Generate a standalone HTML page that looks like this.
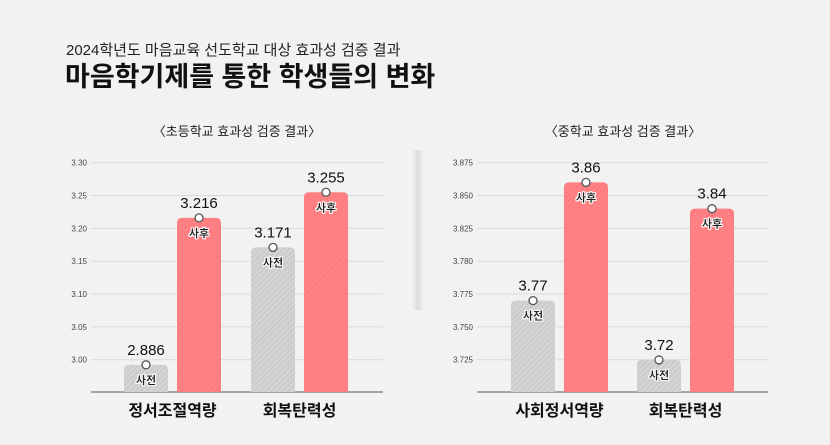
<!DOCTYPE html>
<html><head><meta charset="utf-8">
<style>
body{margin:0;width:830px;height:445px;background:#f2f2f2;overflow:hidden;font-family:"Liberation Sans","Noto Sans CJK KR",sans-serif;}
svg{display:block}
</style></head>
<body>
<svg width="830" height="445" viewBox="0 0 830 445" xmlns="http://www.w3.org/2000/svg">
<defs>
<pattern id="hatchGray" patternUnits="userSpaceOnUse" width="4" height="4" patternTransform="rotate(45)">
<rect width="4" height="4" fill="#d3d3d3"/><line x1="0" y1="0" x2="0" y2="4" stroke="#c2c2c2" stroke-width="1.5"/></pattern>
<pattern id="hatchRed" patternUnits="userSpaceOnUse" width="4" height="4" patternTransform="rotate(45)">
<rect width="4" height="4" fill="#ff8184"/><line x1="0" y1="0" x2="0" y2="4" stroke="#f57578" stroke-width="1"/></pattern>
<linearGradient id="divider" x1="0" x2="1"><stop offset="0" stop-color="#f2f2f2"/><stop offset="0.5" stop-color="#d6d6d6"/><stop offset="1" stop-color="#f2f2f2"/></linearGradient>
<filter id="halo"><feMorphology operator="dilate" radius="1.2" in="SourceAlpha" result="d"/><feFlood flood-color="#fff"/><feComposite in2="d" operator="in"/><feMerge><feMergeNode/><feMergeNode in="SourceGraphic"/></feMerge></filter>
</defs>
<rect x="412" y="150" width="12" height="160" fill="url(#divider)" opacity="0.8"/>
<text x="66" y="55" font-size="15" fill="#222">2024학년도 마음교육 선도학교 대상 효과성 검증 결과</text>
<text x="65" y="86" font-size="27" font-weight="bold" fill="#111">마음학기제를 통한 학생들의 변화</text>
<text x="237" y="136" font-size="13" text-anchor="middle" fill="#222">〈초등학교 효과성 검증 결과〉</text>
<text x="623" y="136" font-size="13" text-anchor="middle" fill="#222">〈중학교 효과성 검증 결과〉</text>
<g id="left"></g>
<g id="right"></g>
</svg>
<script>
const leftCategories = ["정서조절역량", "회복탄력성"];
const leftPre = [2.886, 3.171];
const leftPost = [3.216, 3.255];
const leftTicks = [3.30, 3.25, 3.20, 3.15, 3.10, 3.05, 3.00];
const leftTickLabels = ["3.30", "3.25", "3.20", "3.15", "3.10", "3.05", "3.00"];
const leftPreLabels = ["2.886", "3.171"];
const leftPostLabels = ["3.216", "3.255"];

const rightCategories = ["사회정서역량", "회복탄력성"];
const rightPre = [3.77, 3.72];
const rightPost = [3.86, 3.84];
const rightTicks = [3.875, 3.850, 3.825, 3.800, 3.775, 3.750, 3.725];
const rightTickLabels = ["3.875", "3.850", "3.825", "3.780", "3.775", "3.750", "3.725"];
const rightPreLabels = ["3.77", "3.72"];
const rightPostLabels = ["3.86", "3.84"];

const NS = "http://www.w3.org/2000/svg";
function mk(parent, tag, attrs, text) {
  const e = document.createElementNS(NS, tag);
  for (const k in attrs) e.setAttribute(k, attrs[k]);
  if (text !== undefined) e.textContent = text;
  parent.appendChild(e);
  return e;
}
function drawPanel(g, cfg) {
  const yTop = 162.7, yBot = 359.7, base = 392;
  const maxV = cfg.ticks[0], minV = cfg.ticks[cfg.ticks.length - 1];
  const y = v => v >= minV ? yBot - (v - minV) / (maxV - minV) * (yBot - yTop) : Math.min(base - 6, yBot + (minV - v) * 45);
  cfg.ticks.forEach((t, i) => {
    const ty = y(t);
    const l = mk(g, "line", {x1: cfg.x0, x2: cfg.x1, y1: ty, y2: ty, stroke: "#d9d9d9", "stroke-width": 1});
    
    
    const tx = mk(g, "text", {x: cfg.x0 - 4, y: ty + 3, "font-size": 8, fill: "#444", "text-anchor": "end"}, cfg.tickLabels[i]);
    
    
  });
  const ax = mk(g, "line", {x1: cfg.x0, x2: cfg.x1, y1: base, y2: base, stroke: "#777", "stroke-width": 1.2});
  
  
  cfg.categories.forEach((c, i) => {
    const gx = cfg.groupX[i];
    [[cfg.pre[i], cfg.preLabels[i], "url(#hatchGray)", "사전", gx, "pre"], [cfg.post[i], cfg.postLabels[i], "url(#hatchRed)", "사후", gx + 53, "post"]].forEach(s => {
      const top = y(s[0]), bx = s[4], w = 44, h = base - top;
      const r = 5;
      const bar = mk(g, "path", {d: `M${bx},${base} V${top + r} Q${bx},${top} ${bx + r},${top} H${bx + w - r} Q${bx + w},${top} ${bx + w},${top + r} V${base} Z`, fill: s[2]});
      
      
      const cx = bx + w / 2;
      const dot = mk(g, "circle", {cx: cx, cy: top, r: 4, fill: "#fff", stroke: "#555", "stroke-width": 1.3});
      
      
      const vl = mk(g, "text", {x: cx, y: top - 10, "font-size": 15, fill: "#111", "text-anchor": "middle"}, s[1]);
      
      
      const tl = mk(g, "text", {x: cx, y: top + 19, "font-size": 11, "font-weight": "bold", fill: "#222", "text-anchor": "middle", filter: "url(#halo)"}, s[3]);
      
      
    });
    const cl = mk(g, "text", {x: gx + 48.5, y: 416, "font-size": 16, "font-weight": "bold", fill: "#111", "text-anchor": "middle"}, c);
    
    
  });
}
drawPanel(document.getElementById("left"), {x0: 91, x1: 383, groupX: [124, 251], categories: leftCategories, pre: leftPre, post: leftPost, ticks: leftTicks, tickLabels: leftTickLabels, preLabels: leftPreLabels, postLabels: leftPostLabels});
drawPanel(document.getElementById("right"), {x0: 477, x1: 768, groupX: [511, 637], categories: rightCategories, pre: rightPre, post: rightPost, ticks: rightTicks, tickLabels: rightTickLabels, preLabels: rightPreLabels, postLabels: rightPostLabels});
</script>
</body></html>
